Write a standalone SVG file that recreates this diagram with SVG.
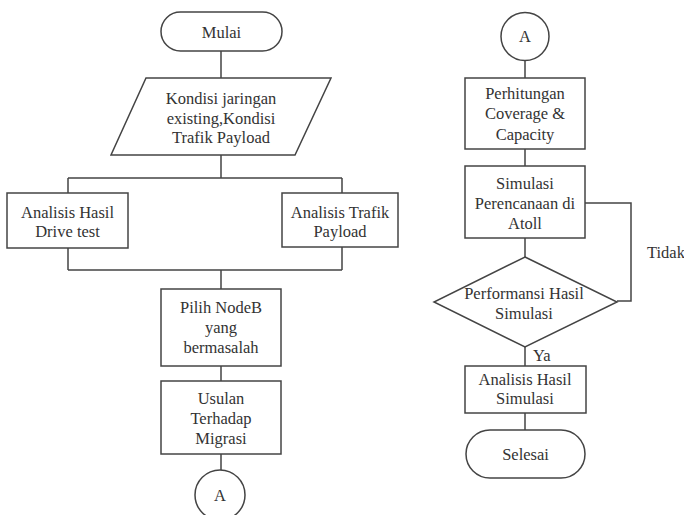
<svg xmlns="http://www.w3.org/2000/svg" width="684" height="515" viewBox="0 0 684 515">
<style>
.s{fill:#fff;stroke:#444;stroke-width:1.5}
.c{fill:none;stroke:#444;stroke-width:1.5}
text{font-family:"Liberation Serif","Times New Roman",serif;font-size:16.5px;fill:#333;text-anchor:middle}
.l{text-anchor:start}
</style>
<rect width="684" height="515" fill="#fff"/>
<g id="connectors">
<path class="c" d="M221 51V78M221 155V178M68 178H342M68 178V193M342 178V193M68 248V270M342 247V270M68 270H342M221 270V289M221 366V381M221 454V470"/>
<path class="c" d="M525 60V78M525 149V166M525 238V257M525 347V366M525 413V430M585 203H631V301H617"/>
</g>
<g id="mulai"><rect class="s" x="161" y="12" width="121" height="39" rx="19.5"/><text x="221.5" y="37.5">Mulai</text></g>
<g id="kondisi"><polygon class="s" points="146,78 331,78 295,155 111,155"/>
<text x="221" y="104">Kondisi jaringan</text><text x="221" y="123.5">existing,Kondisi</text><text x="221" y="143">Trafik Payload</text></g>
<g id="drivetest"><rect class="s" x="7" y="193" width="121" height="55"/><text x="67.5" y="217.5">Analisis Hasil</text><text x="67.5" y="236.5">Drive test</text></g>
<g id="trafik"><rect class="s" x="282" y="193" width="116" height="54"/><text x="340" y="217.5">Analisis Trafik</text><text x="340" y="236.5">Payload</text></g>
<g id="pilih"><rect class="s" x="161" y="289" width="120" height="77"/><text x="221" y="312.5">Pilih NodeB</text><text x="221" y="333">yang</text><text x="221" y="352.5">bermasalah</text></g>
<g id="usulan"><rect class="s" x="161" y="381" width="120" height="73"/><text x="221" y="403.5">Usulan</text><text x="221" y="423.5">Terhadap</text><text x="221" y="443.5">Migrasi</text></g>
<g id="connA1"><circle class="s" cx="220" cy="495" r="25"/><text x="220" y="500.5">A</text></g>
<g id="connA2"><circle class="s" cx="525" cy="36.5" r="24"/><text x="525" y="42">A</text></g>
<g id="perhitungan"><rect class="s" x="465" y="78" width="120" height="71"/><text x="525" y="98.5">Perhitungan</text><text x="525" y="118.5">Coverage &amp;</text><text x="525" y="139.5">Capacity</text></g>
<g id="simulasi"><rect class="s" x="465" y="166" width="120" height="72"/><text x="525" y="188.5">Simulasi</text><text x="525" y="208.5">Perencanaan di</text><text x="525" y="228.5">Atoll</text></g>
<g id="performansi"><polygon class="s" points="525,257 617,302 525,347 434,302"/><text x="524" y="298.5">Performansi Hasil</text><text x="524" y="318.5">Simulasi</text></g>
<g id="analisissim"><rect class="s" x="465" y="366" width="121" height="47"/><text x="525" y="384.5">Analisis Hasil</text><text x="525" y="403.5">Simulasi</text></g>
<g id="selesai"><rect class="s" x="466" y="430" width="119" height="48" rx="24"/><text x="525.5" y="459.5">Selesai</text></g>
<text class="l" x="647" y="257.5">Tidak</text>
<text class="l" x="533" y="360.5">Ya</text>
</svg>
